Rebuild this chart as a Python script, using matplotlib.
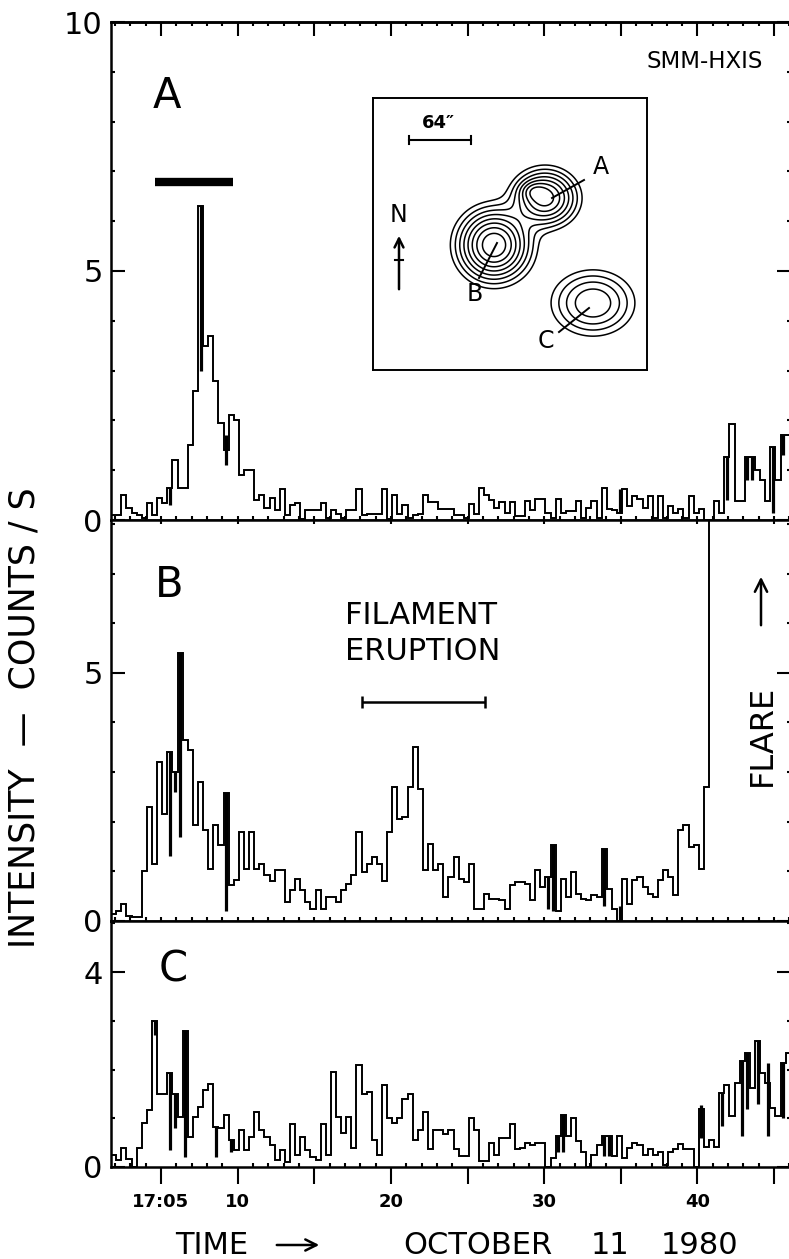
import numpy as np
import matplotlib
matplotlib.use("Agg")
import matplotlib.pyplot as plt
from matplotlib.ticker import MultipleLocator

plt.rcParams['font.family'] = ['DejaVu Sans']

W, H = 789, 1259

# time axis in minutes after 17:00 UT, 20 s bins starting at 17:01:45
T_START = 1.75
BIN = 1 / 3

# HXIS counts/s, region A
counts_a = [
    0.1, 0.1, 0.5, 0.25, 0.15, 0.1, 0.05, 0.35, 0.1, 0.45,
    0.35, 0.65, 1.2, 0.65, 0.65, 1.5, 2.6, 6.3, 3.5, 3.7,
    2.8, 1.95, 1.4, 2.1, 2.0, 0.9, 1.0, 1.0, 0.4, 0.5,
    0.25, 0.45, 0.2, 0.62, 0.1, 0.3, 0.35, 0.02, 0.2, 0.2,
    0.2, 0.35, 0.05, 0.2, 0.12, 0.05, 0.2, 0.2, 0.62, 0.1,
    0.13, 0.13, 0.13, 0.62, 0.03, 0.5, 0.12, 0.3, 0.05, 0.1,
    0.12, 0.5, 0.37, 0.37, 0.23, 0.23, 0.23, 0.1, 0.1, 0.05,
    0.33, 0.12, 0.64, 0.5, 0.4, 0.25, 0.37, 0.15, 0.37, 0.08,
    0.09, 0.38, 0.2, 0.42, 0.42, 0.15, 0.05, 0.42, 0.15, 0.19,
    0.19, 0.38, 0.05, 0.25, 0.38, 0.05, 0.64, 0.22, 0.2, 0.15,
    0.62, 0.29, 0.49, 0.42, 0.25, 0.49, 0.05, 0.49, 0.05, 0.29,
    0.15, 0.22, 0.05, 0.49, 0.15, 0.22, 0.0, 0.0, 0.39, 0.15,
    1.26, 1.93, 0.39, 0.39, 1.26, 1.26, 1.0, 0.8, 0.39, 1.46,
    0.8, 1.7, 1.7,
]

# region B (flare goes off scale at the end, 12 = above the panel)
counts_b = [
    0.15, 0.2, 0.35, 0.1, 0.08, 0.08, 1.0, 2.3, 1.15, 3.2,
    2.16, 3.4, 3.0, 5.4, 3.64, 3.44, 1.93, 2.8, 1.83, 1.05,
    1.93, 1.53, 2.57, 0.72, 0.82, 1.8, 1.05, 1.8, 1.05, 1.15,
    0.92, 0.8, 1.02, 1.02, 0.38, 0.62, 0.85, 0.62, 0.38, 0.25,
    0.62, 0.25, 0.48, 0.48, 0.38, 0.62, 0.75, 0.92, 1.8, 0.99,
    1.15, 1.29, 1.15, 0.8, 1.8, 2.7, 2.06, 2.1, 2.7, 3.5,
    2.65, 1.02, 1.56, 1.02, 1.15, 0.48, 0.89, 1.29, 0.85, 0.79,
    1.15, 0.25, 0.25, 0.55, 0.45, 0.45, 0.42, 0.25, 0.72, 0.79,
    0.79, 0.75, 0.42, 1.02, 0.68, 0.89, 1.53, 0.2, 0.85, 0.48,
    0.99, 0.55, 0.45, 0.42, 0.52, 0.48, 1.46, 0.65, 0.25, 0.0,
    0.85, 0.35, 0.82, 0.89, 0.69, 0.55, 0.48, 0.82, 1.02, 0.89,
    0.52, 1.83, 1.93, 1.5, 1.53, 1.05, 2.7, 12, 12, 12,
    12, 12, 12, 12, 12, 12, 12, 12, 12, 12,
    12, 12, 12,
]

# region C
counts_c = [
    0.24, 0.14, 0.38, 0.17, 0.0, 0.38, 0.9, 1.17, 3.0, 1.5,
    1.5, 1.92, 1.5, 1.03, 2.8, 0.62, 1.03, 1.23, 1.58, 1.71,
    0.82, 0.8, 1.06, 0.55, 0.35, 0.75, 0.35, 0.62, 1.13, 0.75,
    0.62, 0.45, 0.14, 0.35, 0.1, 0.89, 0.24, 0.62, 0.35, 0.2,
    0.14, 0.89, 0.25, 1.96, 1.03, 0.69, 1.03, 0.4, 2.09, 1.5,
    1.54, 0.55, 0.24, 1.68, 1.0, 0.9, 1.0, 1.4, 1.5, 0.55,
    0.75, 1.12, 0.36, 0.75, 0.75, 0.68, 0.75, 0.36, 0.22, 0.22,
    1.0, 0.75, 0.12, 0.12, 0.49, 0.25, 0.6, 0.6, 0.88, 0.36,
    0.4, 0.49, 0.45, 0.49, 0.49, 0.0, 0.18, 0.63, 1.07, 0.63,
    1.0, 0.53, 0.3, 0.0, 0.25, 0.46, 0.63, 0.63, 0.22, 0.63,
    0.18, 0.4, 0.49, 0.45, 0.25, 0.36, 0.25, 0.3, 0.05, 0.3,
    0.36, 0.47, 0.36, 0.36, 0.0, 1.2, 0.42, 0.55, 0.42, 1.52,
    1.69, 1.04, 1.73, 2.17, 2.34, 1.62, 2.58, 1.93, 1.73, 1.21,
    1.04, 2.14, 2.34,
]

# bins where the trace flickers within the bin (drawn as heavy strokes)
flicker_a_bin = [11, 17, 22, 99, 120, 124, 125, 129, 131]
flicker_a_lo = [0.3, 3.0, 1.1, 0.15, 0.4, 0.8, 0.8, 0.15, 1.3]
flicker_a_hi = [0.65, 6.3, 1.7, 0.62, 1.26, 1.26, 1.26, 1.46, 1.7]

flicker_b_bin = [11, 12, 13, 22, 85, 86, 96, 99]
flicker_b_lo = [1.3, 2.6, 1.7, 0.2, 0.25, 0.2, 0.3, 0.0]
flicker_b_hi = [3.4, 3.0, 5.4, 2.57, 0.89, 1.53, 1.46, 0.3]

flicker_c_bin = [8, 11, 12, 14, 20, 23, 87, 88, 96, 97, 115, 119, 123, 124, 126, 128, 131]
flicker_c_lo = [2.7, 0.35, 0.8, 0.2, 0.2, 0.3, 0.3, 0.3, 0.22, 0.22, 0.6, 0.84, 0.63, 1.2, 1.3, 0.63, 1.0]
flicker_c_hi = [3.0, 1.92, 1.5, 2.8, 0.82, 0.55, 0.63, 1.07, 0.63, 0.63, 1.28, 1.52, 2.17, 2.34, 2.58, 2.14, 2.14]

x_major = [5, 10, 15, 20, 25, 30, 35, 40, 45]
x_labels = ['17:05', '10', '', '20', '', '30', '', '40', '']

# source positions in the HXIS image (inset, pixel units of the inset box)
blob_x = [172, 160, 121, 220]
blob_y = [100, 93, 147, 205]
blob_sx = [18, 8, 20, 24]
blob_sy = [16, 6, 20, 19]
blob_amp = [1.0, 0.25, 1.3, 0.55]
contour_levels = [0.12, 0.2, 0.3, 0.42, 0.56, 0.72, 0.9, 1.1]

T_LEFT, T_RIGHT = 1.74, 46.1
X_LEFT, X_RIGHT = 111, 791


def fx(px):
    return px / W


def fy(py):
    return 1 - py / H


def panel(top, bottom):
    return fig.add_axes([fx(X_LEFT), fy(bottom), (X_RIGHT - X_LEFT) / W, (bottom - top) / H])


def draw_counts(ax, counts, fbin, flo, fhi):
    edges = T_START + BIN * np.arange(len(counts) + 1)
    ax.stairs(counts, edges, color='black', lw=1.4, baseline=None)
    centers = T_START + BIN * (np.array(fbin) + 0.5)
    ax.vlines(centers, flo, fhi, color='black', lw=2.3)


fig = plt.figure(figsize=(W / 100, H / 100), dpi=100)

ax_a = panel(22, 520)
ax_b = panel(520, 921)
ax_c = panel(921, 1167)

draw_counts(ax_a, counts_a, flicker_a_bin, flicker_a_lo, flicker_a_hi)
draw_counts(ax_b, counts_b, flicker_b_bin, flicker_b_lo, flicker_b_hi)
draw_counts(ax_c, counts_c, flicker_c_bin, flicker_c_lo, flicker_c_hi)

ax_a.set_ylim(0, 10)
ax_b.set_ylim(0, 8.08)
ax_c.set_ylim(0, 5.05)
ax_a.set_yticks([0, 5, 10])
ax_b.set_yticks([0, 5])
ax_c.set_yticks([0, 4])

for ax in (ax_a, ax_b, ax_c):
    ax.set_xlim(T_LEFT, T_RIGHT)
    ax.set_xticks(x_major)
    ax.xaxis.set_minor_locator(MultipleLocator(1))
    ax.yaxis.set_minor_locator(MultipleLocator(1))
    for s in ax.spines.values():
        s.set_linewidth(1.8)
    ax.tick_params(which='both', direction='in', right=True, width=1.5, labelbottom=False)
    ax.tick_params(which='minor', length=3)
    ax.tick_params(axis='y', which='major', length=10, labelsize=22, pad=6)
    ax.tick_params(axis='x', which='major', length=3)

# long ticks along the top of panel A
ax_a.tick_params(axis='x', top=False)
sec = ax_a.secondary_xaxis('top')
sec.set_xticks(x_major)
sec.xaxis.set_minor_locator(MultipleLocator(1))
sec.tick_params(which='major', direction='in', length=10, width=1.5, labeltop=False)
sec.tick_params(which='minor', direction='in', length=3, width=1.5)
sec.spines['top'].set_linewidth(1.8)

ax_b.tick_params(axis='x', top=True)

ax_c.tick_params(axis='x', which='major', direction='out', length=12, labelbottom=True,
                 labelsize=13, pad=7)
ax_c.set_xticklabels(x_labels, fontweight='bold')

# annotations in panel A
ax_a.hlines(6.78, 4.6, 9.67, color='black', lw=6)
fig.text(fx(167), fy(96), 'A', fontsize=30, ha='center', va='center')
fig.text(fx(705), fy(61), 'SMM-HXIS', fontsize=16.5, ha='center', va='center')

# annotations in panel B
fig.text(fx(169), fy(585), 'B', fontsize=30, ha='center', va='center')
fig.text(fx(345), fy(616), 'FILAMENT', fontsize=22, ha='left', va='center')
fig.text(fx(345), fy(652), 'ERUPTION', fontsize=22, ha='left', va='center')
ax_b.hlines(4.42, 18.13, 26.14, color='black', lw=1.8)
ax_b.vlines([18.13, 26.14], 4.3, 4.54, color='black', lw=1.8)
fig.text(fx(762), fy(735), 'FLARE', fontsize=23, rotation=90, ha='center', va='center')
fig.add_artist(matplotlib.patches.FancyArrowPatch(
    (fx(761), fy(628)), (fx(761), fy(574)), transform=fig.transFigure,
    arrowstyle='->', mutation_scale=22, lw=1.8, color='black'))

# annotations in panel C
fig.text(fx(173), fy(970), 'C', fontsize=30, ha='center', va='center')

# axis titles
fig.text(fx(25), fy(718), 'INTENSITY  —  COUNTS / S', fontsize=25, rotation=90,
         ha='center', va='center')
fig.text(fx(212), fy(1245), 'TIME', fontsize=22, ha='center', va='center')
fig.add_artist(matplotlib.patches.FancyArrowPatch(
    (fx(274), fy(1245)), (fx(322), fy(1245)), transform=fig.transFigure,
    arrowstyle='->', mutation_scale=20, lw=1.8, color='black'))
fig.text(fx(478), fy(1245), 'OCTOBER', fontsize=22, ha='center', va='center')
fig.text(fx(610), fy(1245), '11', fontsize=22, ha='center', va='center')
fig.text(fx(699), fy(1245), '1980', fontsize=22, ha='center', va='center')

# inset: HXIS image with the three sources
ax_in = fig.add_axes([fx(373), fy(370), 274 / W, 272 / H])
ax_in.set_xlim(0, 274)
ax_in.set_ylim(272, 0)
ax_in.set_xticks([])
ax_in.set_yticks([])
for s in ax_in.spines.values():
    s.set_linewidth(1.4)

gx, gy = np.meshgrid(np.linspace(0, 274, 400), np.linspace(0, 272, 400))
img = np.zeros_like(gx)
for bx, by, sx, sy, amp in zip(blob_x, blob_y, blob_sx, blob_sy, blob_amp):
    img += amp * np.exp(-((gx - bx) ** 2 / (2 * sx ** 2) + (gy - by) ** 2 / (2 * sy ** 2)))
ax_in.contour(gx, gy, img, levels=contour_levels, colors='black', linewidths=1.1)

ax_in.plot([36, 98], [42, 42], color='black', lw=1.5)
ax_in.plot([36, 36], [38, 46], color='black', lw=1.5)
ax_in.plot([98, 98], [38, 46], color='black', lw=1.5)
ax_in.text(65, 25, '64″', fontsize=13, fontweight='bold', ha='center', va='center')

ax_in.text(26, 117, 'N', fontsize=17, ha='center', va='center')
ax_in.annotate('', xy=(26, 135), xytext=(26, 194),
               arrowprops=dict(arrowstyle='->', lw=1.8, color='black', mutation_scale=16))
ax_in.plot([22, 30], [162, 162], color='black', lw=1.5)

ax_in.text(228, 69, 'A', fontsize=17, ha='center', va='center')
ax_in.plot([211, 179], [82, 100], color='black', lw=1.4)
ax_in.text(102, 196, 'B', fontsize=17, ha='center', va='center')
ax_in.plot([106, 124], [180, 145], color='black', lw=1.4)
ax_in.text(173, 243, 'C', fontsize=17, ha='center', va='center')
ax_in.plot([186, 216], [234, 210], color='black', lw=1.4)

fig.savefig('out.png', dpi=100)
